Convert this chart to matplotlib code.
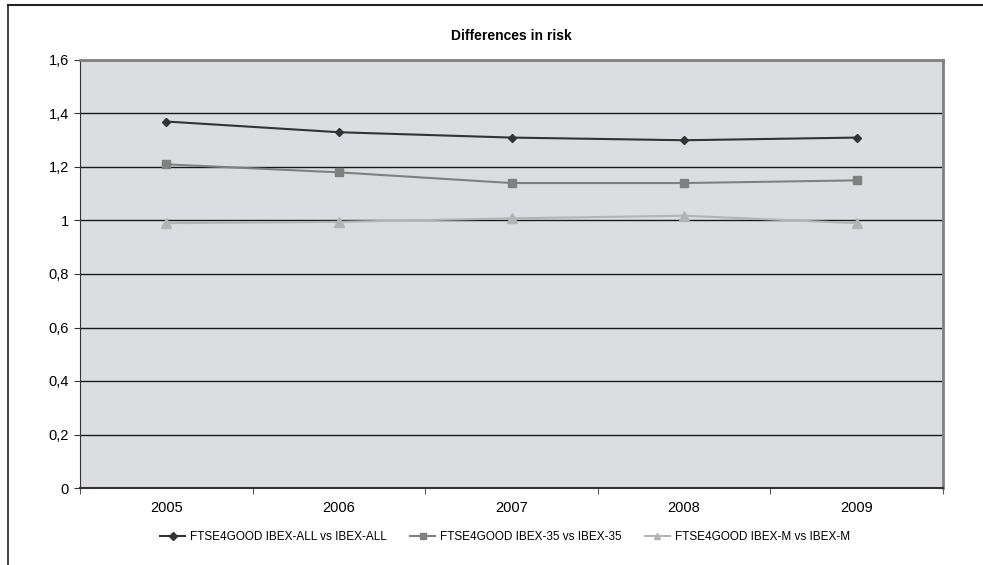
import matplotlib.pyplot as plt
from matplotlib.lines import Line2D
from matplotlib.ticker import FixedLocator, NullFormatter

plt.rcParams['font.family'] = ['Liberation Sans', 'DejaVu Sans']

years = ["2005", "2006", "2007", "2008", "2009"]
all_vals = [1.37, 1.33, 1.31, 1.30, 1.31]
ibex35_vals = [1.21, 1.18, 1.14, 1.14, 1.15]
ibexm_vals = [0.99, 0.995, 1.008, 1.018, 0.99]
labels = ["FTSE4GOOD IBEX-ALL vs IBEX-ALL",
          "FTSE4GOOD IBEX-35 vs IBEX-35",
          "FTSE4GOOD IBEX-M vs IBEX-M"]
yticks = [0, 0.2, 0.4, 0.6, 0.8, 1.0, 1.2, 1.4, 1.6]
ytick_labels = ["0", "0,2", "0,4", "0,6", "0,8", "1", "1,2", "1,4", "1,6"]

W, H = 983, 565
fig = plt.figure(figsize=(W / 100, H / 100), dpi=100)
# plot area in pixels: x 80..943, y 60..488
ax = fig.add_axes([80 / W, 1 - 488 / H, (943 - 80) / W, (488 - 60) / H])
ax.set_facecolor("#dcdde0")

x = list(range(len(years)))
ax.plot(x, all_vals, color="#333333", lw=1.5, marker="D", ms=4.5, label=labels[0], zorder=4)
ax.plot(x, ibex35_vals, color="#808080", lw=1.5, marker="s", ms=6, label=labels[1], zorder=3)
ax.plot(x, ibexm_vals, color="#b4b4b4", lw=1.5, marker="^", ms=6.5, label=labels[2], zorder=2)

ax.set_xlim(-0.5, len(years) - 0.5)
ax.set_ylim(0, 1.6)
ax.set_yticks(yticks)
ax.set_yticklabels(ytick_labels)
ax.yaxis.grid(True, color="#1a1a1a", lw=1)
ax.set_axisbelow(True)

ax.set_xticks(x)
ax.set_xticklabels(years)
ax.xaxis.set_minor_locator(FixedLocator([i + 0.5 for i in range(-1, len(years))]))
ax.xaxis.set_minor_formatter(NullFormatter())
ax.tick_params(axis="x", which="major", length=0, pad=9, labelsize=10.5)
ax.tick_params(axis="x", which="minor", length=4, direction="out", color="#333333")
ax.tick_params(axis="y", length=4, direction="out", labelsize=10.5, pad=4, color="#333333")

for s in ["top", "right"]:
    ax.spines[s].set_color("#808080")
    ax.spines[s].set_linewidth(2)
ax.spines["left"].set_color("#333333")
ax.spines["bottom"].set_color("#333333")
ax.spines["bottom"].set_linewidth(1.5)

fig.text(0.5 * (80 + 943) / W, 1 - 36 / H, "Differences in risk",
         ha="center", va="center", fontsize=10, fontweight="bold")

leg = fig.legend(loc="center", bbox_to_anchor=(505 / W, 1 - 537 / H),
                 ncol=3, frameon=False, fontsize=8.5, handlelength=2.1,
                 columnspacing=2.0, handletextpad=0.4)
for h in leg.legend_handles:
    h.set_markersize(4)

# outer chart border (left and top)
fig.add_artist(Line2D([8 / W, 8 / W], [0, 1 - 5 / H], transform=fig.transFigure,
                      color="#222222", lw=1.2))
fig.add_artist(Line2D([8 / W, 1], [1 - 5 / H, 1 - 5 / H], transform=fig.transFigure,
                      color="#222222", lw=1.5))

fig.savefig("out.png", dpi=100)
